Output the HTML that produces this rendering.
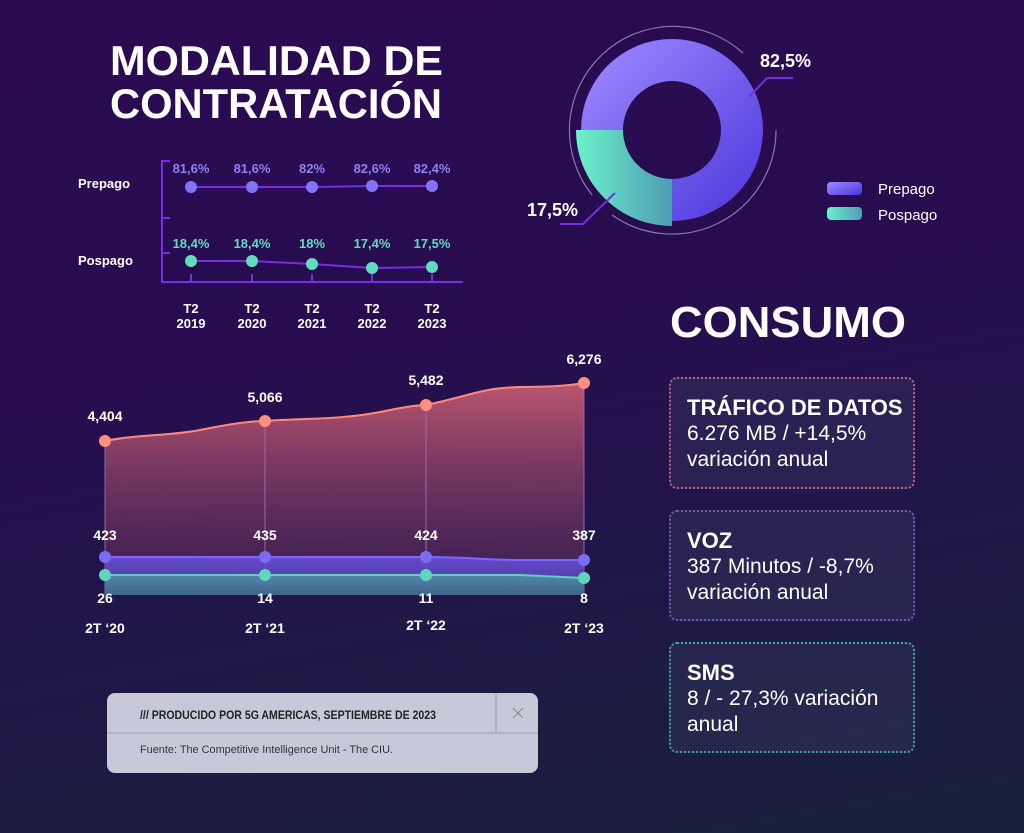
<!DOCTYPE html>
<html><head><meta charset="utf-8"><style>
body{margin:0;width:1024px;height:833px;overflow:hidden;background:linear-gradient(170deg,#2c0a52 0%,#270d50 40%,#1e1a45 75%,#18213c 100%);font-family:"Liberation Sans",sans-serif;}
svg{position:absolute;left:0;top:0}
.box{position:absolute;left:669px;width:246px;border:2px dotted;border-radius:8px;background:rgba(60,60,100,0.35);color:#fff;box-sizing:border-box;padding:16px 0 0 16px;font-size:21px;line-height:26px}
.box b{font-size:22px;display:block}
</style></head><body>
<svg width="1024" height="833" viewBox="0 0 1024 833">
<defs>
<linearGradient id="gp" x1="0" y1="0" x2="1" y2="1"><stop offset="0" stop-color="#a08cff"/><stop offset="1" stop-color="#4b35dc"/></linearGradient>
<linearGradient id="gt" x1="0" y1="0" x2="1" y2="0"><stop offset="0" stop-color="#6cf2c8"/><stop offset="1" stop-color="#4f9cb6"/></linearGradient>
<linearGradient id="gr" x1="0" y1="0" x2="0" y2="1"><stop offset="0" stop-color="#c25a70" stop-opacity=".95"/><stop offset="1" stop-color="#6a3060" stop-opacity=".3"/></linearGradient>
<linearGradient id="gv" x1="0" y1="0" x2="0" y2="1"><stop offset="0" stop-color="#6a50e6"/><stop offset="1" stop-color="#4a3d9a"/></linearGradient>
<linearGradient id="gs" x1="0" y1="0" x2="0" y2="1"><stop offset="0" stop-color="#4f8fa8"/><stop offset="1" stop-color="#3f6a88"/></linearGradient>
</defs>
<g fill="#fff" font-weight="bold" font-size="42">
<text x="110" y="75" textLength="333" lengthAdjust="spacingAndGlyphs">MODALIDAD DE</text>
<text x="110" y="118" textLength="332" lengthAdjust="spacingAndGlyphs">CONTRATACIÓN</text>
<text x="670" y="337" font-size="44" textLength="236" lengthAdjust="spacingAndGlyphs">CONSUMO</text>
</g>
<g stroke="#7a2de0" stroke-width="2" fill="none">
<path d="M162 160V282H463M162 161h8M162 218h8M162 253h8"/>
<path d="M191 282v-8M252 282v-8M312 282v-8M372 282v-8M432 282v-8"/>
<path d="M191 187L252 187L312 187L372 186L432 186"/>
<path d="M191 261L252 261L312 264L372 268L432 267"/>
</g>
<g fill="#8275f5"><circle cx="191" cy="187" r="6"/><circle cx="252" cy="187" r="6"/><circle cx="312" cy="187" r="6"/><circle cx="372" cy="186" r="6"/><circle cx="432" cy="186" r="6"/></g>
<g fill="#62dcbc"><circle cx="191" cy="261" r="6"/><circle cx="252" cy="261" r="6"/><circle cx="312" cy="264" r="6"/><circle cx="372" cy="268" r="6"/><circle cx="432" cy="267" r="6"/></g>
<g font-size="13" font-weight="bold" text-anchor="middle">
<g fill="#8e80f5"><text x="191" y="173">81,6%</text><text x="252" y="173">81,6%</text><text x="312" y="173">82%</text><text x="372" y="173">82,6%</text><text x="432" y="173">82,4%</text></g>
<g fill="#62dcbc"><text x="191" y="248">18,4%</text><text x="252" y="248">18,4%</text><text x="312" y="248">18%</text><text x="372" y="248">17,4%</text><text x="432" y="248">17,5%</text></g>
<g fill="#fff"><text x="191" y="313">T2</text><text x="252" y="313">T2</text><text x="312" y="313">T2</text><text x="372" y="313">T2</text><text x="432" y="313">T2</text>
<text x="191" y="328">2019</text><text x="252" y="328">2020</text><text x="312" y="328">2021</text><text x="372" y="328">2022</text><text x="432" y="328">2023</text></g>
</g>
<g fill="#fff" font-size="13" font-weight="bold"><text x="78" y="188">Prepago</text><text x="78" y="265">Pospago</text></g>
<g fill="none" stroke="#8a7aa8" stroke-width="1.2">
<path d="M592 195 A104 104 0 0 1 743 53"/>
<path d="M776 130 A104 104 0 0 1 612 215"/>
</g>
<path d="M581 130 A91 91 0 1 1 672 221 L672 179 A49 49 0 1 0 623 130Z" fill="url(#gp)"/>
<path d="M576 130 L623 130 A49 49 0 0 0 672 179 L672 226 A96 96 0 0 1 576 130Z" fill="url(#gt)"/>
<path d="M749 97 L767 78 H793" stroke="#7a2de0" stroke-width="2" fill="none"/>
<path d="M615 193 L583 224 H560" stroke="#7a2de0" stroke-width="2" fill="none"/>
<g fill="#fff" font-size="18" font-weight="bold"><text x="760" y="67">82,5%</text><text x="527" y="216">17,5%</text></g>
<rect x="827" y="182" width="35" height="13" rx="4" fill="url(#gp)"/>
<rect x="827" y="207" width="35" height="13" rx="4" fill="url(#gt)"/>
<g fill="#fff" font-size="15"><text x="878" y="194">Prepago</text><text x="878" y="220">Pospago</text></g>
<path d="M105 441 C140 434,170 436,200 430 C230 424,250 421,265 421 C300 418,340 420,380 412 C400 408,415 405,426 405 C470 396,480 388,520 387 C560 387,570 385,584 383 L584 595 L105 595Z" fill="url(#gr)"/>
<path d="M105 441 C140 434,170 436,200 430 C230 424,250 421,265 421 C300 418,340 420,380 412 C400 408,415 405,426 405 C470 396,480 388,520 387 C560 387,570 385,584 383" fill="none" stroke="#ff8a7a" stroke-width="2"/>
<g stroke="#a070b0" stroke-opacity=".6" stroke-width="1.5"><path d="M105 441V595M265 421V595M426 405V595M584 383V595"/></g>
<path d="M105 557 L426 557 C470 557,480 560,520 560 L584 560 L584 595 L105 595Z" fill="url(#gv)" opacity=".85"/>
<path d="M105 557 L426 557 C470 557,480 560,520 560 L584 560" stroke="#7c66ff" stroke-width="2" fill="none"/>
<path d="M105 575 L426 575 L520 575 L584 578 L584 595 L105 595Z" fill="url(#gs)" opacity=".9"/>
<path d="M105 575 L520 575 L584 578" stroke="#5fd0c0" stroke-width="2" fill="none"/>
<g fill="#ff8f80"><circle cx="105" cy="441" r="6"/><circle cx="265" cy="421" r="6"/><circle cx="426" cy="405" r="6"/><circle cx="584" cy="383" r="6"/></g>
<g fill="#7c6cf5"><circle cx="105" cy="557" r="6"/><circle cx="265" cy="557" r="6"/><circle cx="426" cy="557" r="6"/><circle cx="584" cy="560" r="6"/></g>
<g fill="#5ed6be"><circle cx="105" cy="575" r="6"/><circle cx="265" cy="575" r="6"/><circle cx="426" cy="575" r="6"/><circle cx="584" cy="578" r="6"/></g>
<g fill="#fff" font-size="14" font-weight="bold" text-anchor="middle">
<text x="105" y="421">4,404</text><text x="265" y="402">5,066</text><text x="426" y="385">5,482</text><text x="584" y="364">6,276</text>
<text x="105" y="540">423</text><text x="265" y="540">435</text><text x="426" y="540">424</text><text x="584" y="540">387</text>
<text x="105" y="603">26</text><text x="265" y="603">14</text><text x="426" y="603">11</text><text x="584" y="603">8</text>
<text x="105" y="633">2T ‘20</text><text x="265" y="633">2T ‘21</text><text x="426" y="630">2T ‘22</text><text x="584" y="633">2T ‘23</text>
</g>
<rect x="107" y="693" width="431" height="80" rx="8" fill="#c8c9d8"/>
<path d="M107 733H538M496 693V733" stroke="#9a9aab" stroke-width="1"/>
<path d="M513 708l10 10M523 708l-10 10" stroke="#888" stroke-width="1"/>
<text x="140" y="719" font-size="12" font-weight="bold" fill="#222" textLength="296" lengthAdjust="spacingAndGlyphs">/// PRODUCIDO POR 5G AMERICAS, SEPTIEMBRE DE 2023</text>
<text x="140" y="753" font-size="11" fill="#333" textLength="253" lengthAdjust="spacingAndGlyphs">Fuente: The Competitive Intelligence Unit - The CIU.</text>
</svg>
<div class="box" style="top:377px;height:112px;border-color:#c0607a"><b>TRÁFICO DE DATOS</b>6.276 MB / +14,5%<br>variación anual</div>
<div class="box" style="top:510px;height:111px;border-color:#7a55c0"><b>VOZ</b>387 Minutos / -8,7%<br>variación anual</div>
<div class="box" style="top:642px;height:111px;border-color:#3fa890"><b>SMS</b>8 / - 27,3% variación<br>anual</div>
</body></html>
